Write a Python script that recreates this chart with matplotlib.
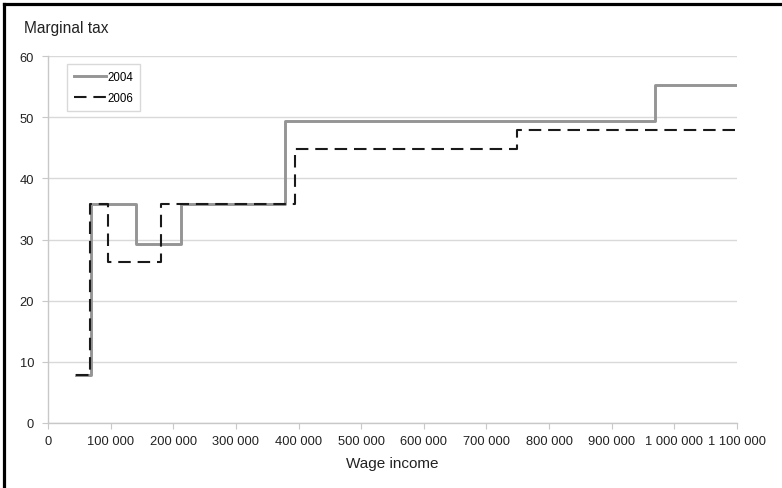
import matplotlib
matplotlib.use("Agg")
import matplotlib.pyplot as plt
from matplotlib.lines import Line2D
from matplotlib.ticker import FuncFormatter, MultipleLocator

# Data: step breakpoints (wage income) and marginal tax rate from that point on
inc_2004 = [44000, 68000, 141000, 212000, 378000, 969000, 1100000]
tax_2004 = [7.8, 35.8, 29.2, 35.8, 49.3, 55.3, 55.3]
inc_2006 = [44000, 67000, 95000, 180000, 394000, 749000, 1100000]
tax_2006 = [7.8, 35.8, 26.4, 35.8, 44.8, 47.9, 47.9]

plt.rcParams['font.family'] = ['Liberation Sans', 'DejaVu Sans']

fig = plt.figure(figsize=(7.82, 4.89), dpi=100)
ax = fig.add_axes([48 / 782, 1 - 424 / 489, 689 / 782, 367 / 489])

ax.plot(inc_2004, tax_2004, drawstyle='steps-post', color='#959595', lw=2.1, label='2004')
ax.plot(inc_2006, tax_2006, drawstyle='steps-post', color='#1a1a1a', lw=1.5,
        dashes=(6, 3.3), label='2006')

ax.set_xlim(0, 1100000)
ax.set_ylim(0, 60)
ax.xaxis.set_major_locator(MultipleLocator(100000))
ax.yaxis.set_major_locator(MultipleLocator(10))
ax.xaxis.set_major_formatter(FuncFormatter(lambda v, p: f"{int(v):,}".replace(",", " ")))

ax.grid(axis='y', color='#d9d9d9', lw=1.0)
ax.set_axisbelow(True)
for s in ['top', 'right']:
    ax.spines[s].set_visible(False)
for s in ['left', 'bottom']:
    ax.spines[s].set_color('#c8c8c8')
    ax.spines[s].set_linewidth(1.0)
ax.tick_params(axis='both', colors='#c8c8c8', labelcolor='#222222', labelsize=9.3, length=4)
ax.tick_params(axis='x', pad=5)
ax.tick_params(axis='y', pad=6)

ax.set_xlabel('Wage income', fontsize=11, color='#222222', labelpad=6)
fig.text(24 / 782, 1 - 28 / 489, 'Marginal tax', fontsize=11.2, color='#222222', va='center')

leg = ax.legend(loc='upper left', bbox_to_anchor=(0.019, 0.993), fontsize=8.3,
                frameon=True, fancybox=False, handlelength=2.8, handletextpad=0.1,
                borderpad=0.6, labelspacing=0.75)
leg.get_frame().set_edgecolor('#d0d0d0')
leg.get_frame().set_linewidth(1.0)

# black frame edges of the cropped figure
fig.add_artist(Line2D([3.5 / 782, 3.5 / 782], [0, 1 - 4.5 / 489], color='black', lw=2.3,
                      transform=fig.transFigure))
fig.add_artist(Line2D([3.5 / 782, 1], [1 - 4.5 / 489, 1 - 4.5 / 489], color='black', lw=2.3,
                      transform=fig.transFigure))

fig.savefig('out.png', dpi=100)
